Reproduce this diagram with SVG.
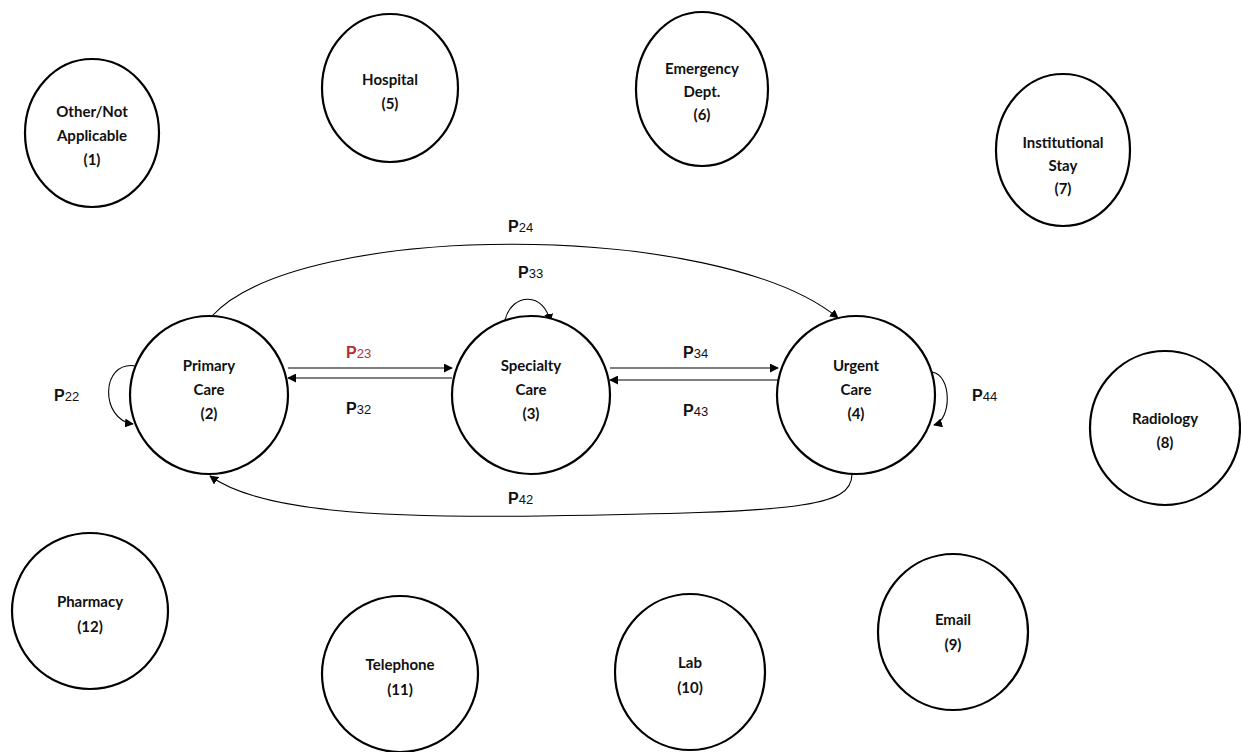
<svg xmlns="http://www.w3.org/2000/svg" width="1241" height="752" viewBox="0 0 1241 752">
<style>
.node{fill:#fff;stroke:#000;stroke-width:2.2}
.lbl{font-family:Lato,"Open Sans","Liberation Sans",sans-serif;font-weight:bold;font-size:15px;fill:#111;text-anchor:middle}
.edge{fill:none;stroke:#000;stroke-width:1.1}
.p{font-family:"Liberation Sans",Arial,sans-serif;font-size:15px;fill:#111}
.pb{font-weight:bold;font-size:16px}
.sub{font-size:13px}
</style>
<defs>
<marker id="arr" viewBox="0 0 10 10" refX="9" refY="5" markerWidth="9" markerHeight="9" markerUnits="userSpaceOnUse" orient="auto">
<path d="M0,0 L10,5 L0,10 z" fill="#000"/>
</marker>
</defs>
<rect width="1241" height="752" fill="#fff"/>

<g id="connectors">
<path class="edge" d="M212,316 C300,220 720,220 838,318" marker-end="url(#arr)"/>
<path class="edge" d="M505,320 C512,292 545,292 550,322" marker-end="url(#arr)"/>
<path class="edge" d="M136,366 C100,360 100,420 133,424" marker-end="url(#arr)"/>
<path class="edge" d="M288,368 L452,368" marker-end="url(#arr)"/>
<path class="edge" d="M452,378 L288,378" marker-end="url(#arr)"/>
<path class="edge" d="M610,368 L778,368" marker-end="url(#arr)"/>
<path class="edge" d="M778,380 L610,380" marker-end="url(#arr)"/>
<path class="edge" d="M932,372 C952,375 952,420 934,425" marker-end="url(#arr)"/>
<path class="edge" d="M852,474 C852,508 800,512 540,516 C380,518 260,512 210,476" marker-end="url(#arr)"/>
<text class="p" x="508" y="232"><tspan class="pb">P</tspan><tspan class="sub">24</tspan></text>
<text class="p" x="518" y="278"><tspan class="pb">P</tspan><tspan class="sub">33</tspan></text>
<text class="p" x="54" y="401"><tspan class="pb">P</tspan><tspan class="sub">22</tspan></text>
<text class="p" x="346" y="358" style="fill:#b5312d"><tspan class="pb">P</tspan><tspan class="sub">23</tspan></text>
<text class="p" x="346" y="414"><tspan class="pb">P</tspan><tspan class="sub">32</tspan></text>
<text class="p" x="683" y="358"><tspan class="pb">P</tspan><tspan class="sub">34</tspan></text>
<text class="p" x="683" y="416"><tspan class="pb">P</tspan><tspan class="sub">43</tspan></text>
<text class="p" x="972" y="401"><tspan class="pb">P</tspan><tspan class="sub">44</tspan></text>
<text class="p" x="508" y="504"><tspan class="pb">P</tspan><tspan class="sub">42</tspan></text>
</g>

<g id="n1"><ellipse class="node" cx="92" cy="133" rx="67" ry="74"/>
<text class="lbl" x="92" y="117">Other/Not</text><text class="lbl" x="92" y="141">Applicable</text><text class="lbl" x="92" y="165">(1)</text></g>
<g id="n5"><ellipse class="node" cx="390" cy="88" rx="68" ry="74"/>
<text class="lbl" x="390" y="85">Hospital</text><text class="lbl" x="390" y="109">(5)</text></g>
<g id="n6"><ellipse class="node" cx="702" cy="89" rx="66" ry="77"/>
<text class="lbl" x="702" y="74">Emergency</text><text class="lbl" x="702" y="97">Dept.</text><text class="lbl" x="702" y="120">(6)</text></g>
<g id="n7"><ellipse class="node" cx="1063" cy="150" rx="67" ry="76"/>
<text class="lbl" x="1063" y="148">Institutional</text><text class="lbl" x="1063" y="171">Stay</text><text class="lbl" x="1063" y="194">(7)</text></g>
<g id="n2"><ellipse class="node" cx="209" cy="395" rx="79" ry="79"/>
<text class="lbl" x="209" y="371">Primary</text><text class="lbl" x="209" y="395">Care</text><text class="lbl" x="209" y="419">(2)</text></g>
<g id="n3"><ellipse class="node" cx="531" cy="395" rx="79" ry="79"/>
<text class="lbl" x="531" y="371">Specialty</text><text class="lbl" x="531" y="395">Care</text><text class="lbl" x="531" y="419">(3)</text></g>
<g id="n4"><ellipse class="node" cx="856" cy="395" rx="79" ry="79"/>
<text class="lbl" x="856" y="371">Urgent</text><text class="lbl" x="856" y="395">Care</text><text class="lbl" x="856" y="419">(4)</text></g>
<g id="n8"><ellipse class="node" cx="1165" cy="428" rx="75" ry="77"/>
<text class="lbl" x="1165" y="424">Radiology</text><text class="lbl" x="1165" y="448">(8)</text></g>
<g id="n12"><ellipse class="node" cx="90" cy="611" rx="78" ry="78"/>
<text class="lbl" x="90" y="607">Pharmacy</text><text class="lbl" x="90" y="632">(12)</text></g>
<g id="n11"><ellipse class="node" cx="400" cy="674" rx="78" ry="78"/>
<text class="lbl" x="400" y="670">Telephone</text><text class="lbl" x="400" y="695">(11)</text></g>
<g id="n10"><ellipse class="node" cx="690" cy="672" rx="75" ry="78"/>
<text class="lbl" x="690" y="668">Lab</text><text class="lbl" x="690" y="693">(10)</text></g>
<g id="n9"><ellipse class="node" cx="953" cy="632" rx="75" ry="78"/>
<text class="lbl" x="953" y="625">Email</text><text class="lbl" x="953" y="650">(9)</text></g>
</svg>
